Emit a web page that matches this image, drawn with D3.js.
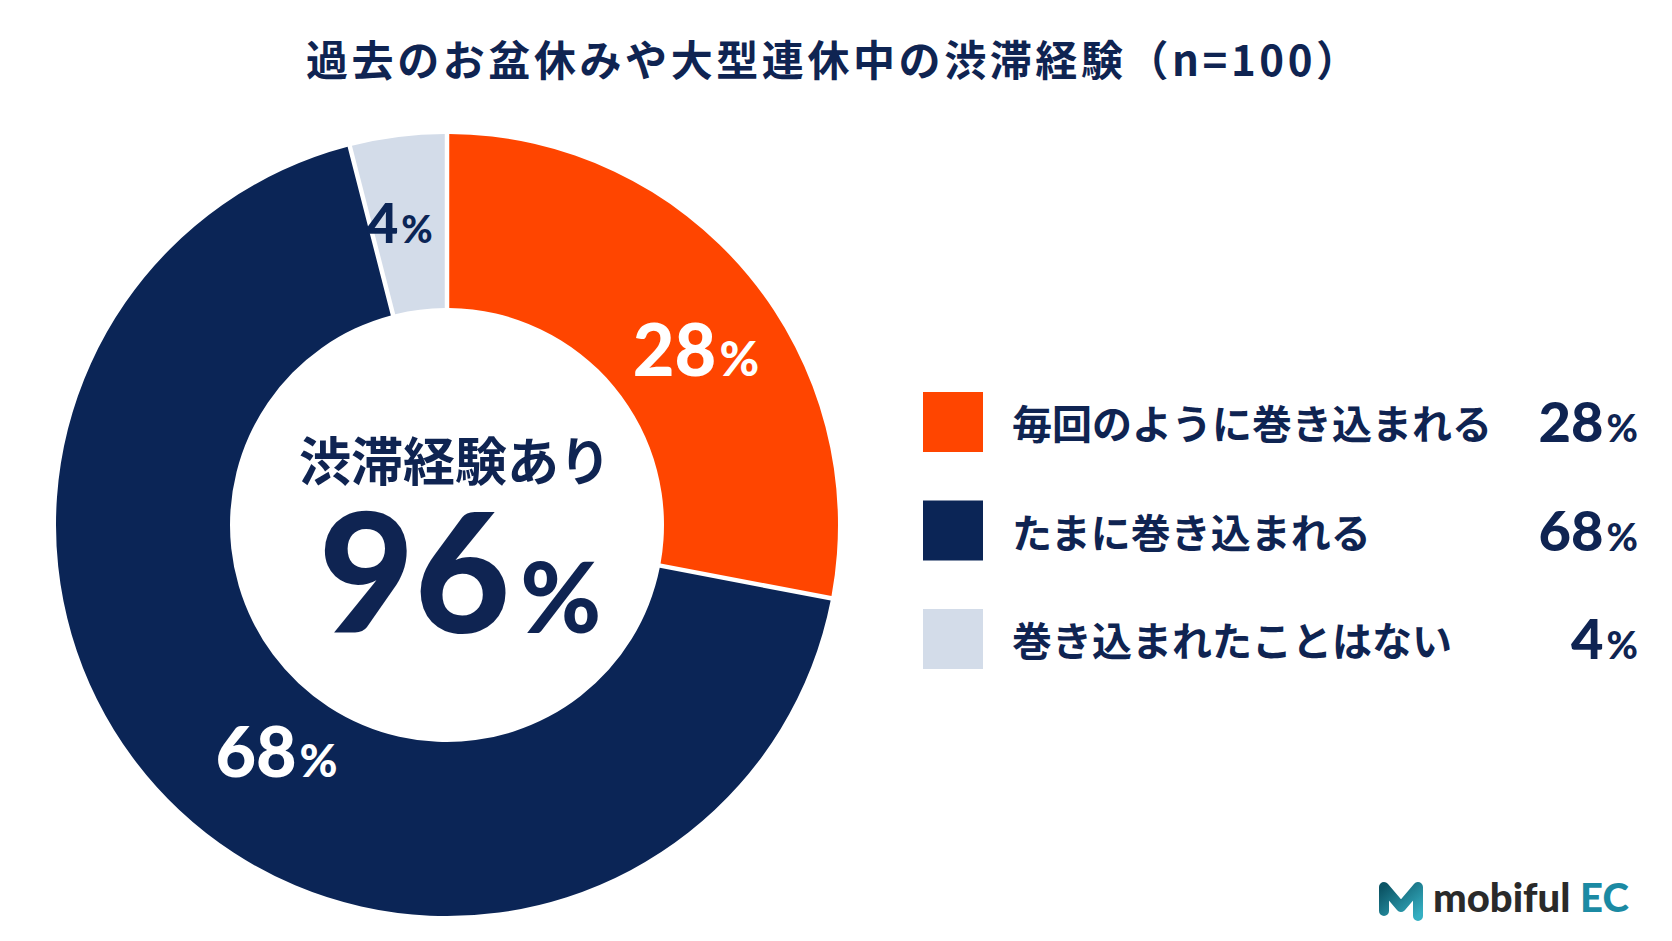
<!DOCTYPE html>
<html lang="ja">
<head>
<meta charset="utf-8">
<script src="https://cdn.jsdelivr.net/npm/d3@7"></script>
<style>
  html, body { margin: 0; padding: 0; background: #ffffff; }
  svg { display: block; }
</style>
</head>
<body>
<svg id="chart" width="1672" height="941"></svg>
<script>
// ---- data ----
const titleText = "過去のお盆休みや大型連休中の渋滞経験（n=100）";
const categories = ["毎回のように巻き込まれる", "たまに巻き込まれる", "巻き込まれたことはない"];
const values = [28, 68, 4];
const centerCaption = "渋滞経験あり";
const experiencedIdx = [0, 1];
const seriesColors = ["#FF4500", "#0B2556", "#D3DCE9"];
const labelColors = ["#FFFFFF", "#FFFFFF", "#0B2556"];
const brandName = ["mobiful", "EC"];

// ---- setup ----
const W = 1672, H = 941;
const navy = "#0F2452";
const jpFont = "'Noto Sans CJK JP', 'Noto Sans', sans-serif";
const numFont = "Lato, 'Open Sans', sans-serif";
const svg = d3.select("#chart");
svg.append("rect").attr("width", W).attr("height", H).attr("fill", "#ffffff");

const color = d3.scaleOrdinal().domain(categories).range(seriesColors);
const cx = 447, cy = 525, outerR = 391, innerR = 217;

// Title
svg.append("text")
  .attr("x", 306).attr("y", 76)
  .attr("font-family", jpFont).attr("font-weight", 700)
  .attr("font-size", 42).attr("fill", navy)
  .attr("textLength", 1052).attr("lengthAdjust", "spacing")
  .text(titleText);

// Donut
const pieData = d3.pie().sort(null).value(d => d.v)
  (categories.map((c, i) => ({ c, v: values[i], i })));
const padR = Math.sqrt(innerR * innerR + outerR * outerR);
const arc = d3.arc().innerRadius(innerR).outerRadius(outerR)
  .padRadius(padR).padAngle(4.5 / padR);

const g = svg.append("g").attr("transform", `translate(${cx},${cy})`);
g.selectAll("path.slice").data(pieData).join("path")
  .attr("class", "slice")
  .attr("d", arc)
  .attr("fill", d => color(d.data.c));

// Slice labels
const angleNudge = [0.08, -0.11, -0.03]; // radians
const labelR = [304, 284, 306];
const digitSize = [72, 70, 55];
const pctSize = [48, 46, 38];
pieData.forEach((d, k) => {
  const mid = (d.startAngle + d.endAngle) / 2 + angleNudge[k];
  const r = labelR[k];
  const x = Math.sin(mid) * r, y = -Math.cos(mid) * r;
  const ds = digitSize[k];
  const t = g.append("text")
    .attr("x", x).attr("y", y + ds * 0.36)
    .attr("text-anchor", "middle")
    .attr("font-family", numFont).attr("font-weight", 900)
    .attr("fill", labelColors[k]);
  t.append("tspan").attr("font-size", ds).text(d.data.v);
  t.append("tspan").attr("font-size", pctSize[k]).attr("dx", 3).text("%");
});

// Center text
const total = d3.sum(experiencedIdx, i => values[i]);
svg.append("text")
  .attr("x", 455).attr("y", 481)
  .attr("text-anchor", "middle")
  .attr("font-family", jpFont).attr("font-weight", 700)
  .attr("font-size", 52).attr("fill", navy)
  .text(centerCaption);
const ct = svg.append("text")
  .attr("x", 460).attr("y", 633)
  .attr("text-anchor", "middle")
  .attr("font-family", numFont).attr("font-weight", 900)
  .attr("fill", navy);
ct.append("tspan").attr("font-size", 165).text(total);
ct.append("tspan").attr("font-size", 98).attr("dx", 10).text("%");

// Legend
const legendY = d3.scalePoint().domain(categories).range([422, 639]);
const lg = svg.append("g");
categories.forEach((c, i) => {
  const y = legendY(c);
  lg.append("rect")
    .attr("x", 923).attr("y", y - 30)
    .attr("width", 60).attr("height", 60)
    .attr("fill", color(c));
  lg.append("text")
    .attr("x", 1012).attr("y", y + 17)
    .attr("font-family", jpFont).attr("font-weight", 700)
    .attr("font-size", 40).attr("fill", navy)
    .text(c);
  const vt = lg.append("text")
    .attr("x", 1638).attr("y", y + 20)
    .attr("text-anchor", "end")
    .attr("font-family", numFont).attr("font-weight", 900)
    .attr("fill", navy);
  vt.append("tspan").attr("font-size", 56).text(values[i]);
  vt.append("tspan").attr("font-size", 38).attr("dx", 3).text("%");
});

// Logo
const defs = svg.append("defs");
const grad = defs.append("linearGradient").attr("id", "mgrad")
  .attr("x1", "0").attr("y1", "0").attr("x2", "1").attr("y2", "1");
grad.append("stop").attr("offset", "0%").attr("stop-color", "#0C5566");
grad.append("stop").attr("offset", "100%").attr("stop-color", "#35AFC2");
svg.append("path")
  .attr("d", "M1384,911 L1384,887 L1401,907 L1418,887 L1418,916")
  .attr("fill", "none").attr("stroke", "url(#mgrad)")
  .attr("stroke-width", 10).attr("stroke-linecap", "round").attr("stroke-linejoin", "round");
const lt = svg.append("text")
  .attr("x", 1433).attr("y", 912)
  .attr("font-family", numFont).attr("font-weight", 900)
  .attr("font-size", 40);
lt.append("tspan").attr("fill", "#2A2A2A").text(brandName[0]);
lt.append("tspan").attr("fill", "#1B8AA3").attr("dx", 10).text(brandName[1]);
</script>
</body>
</html>
